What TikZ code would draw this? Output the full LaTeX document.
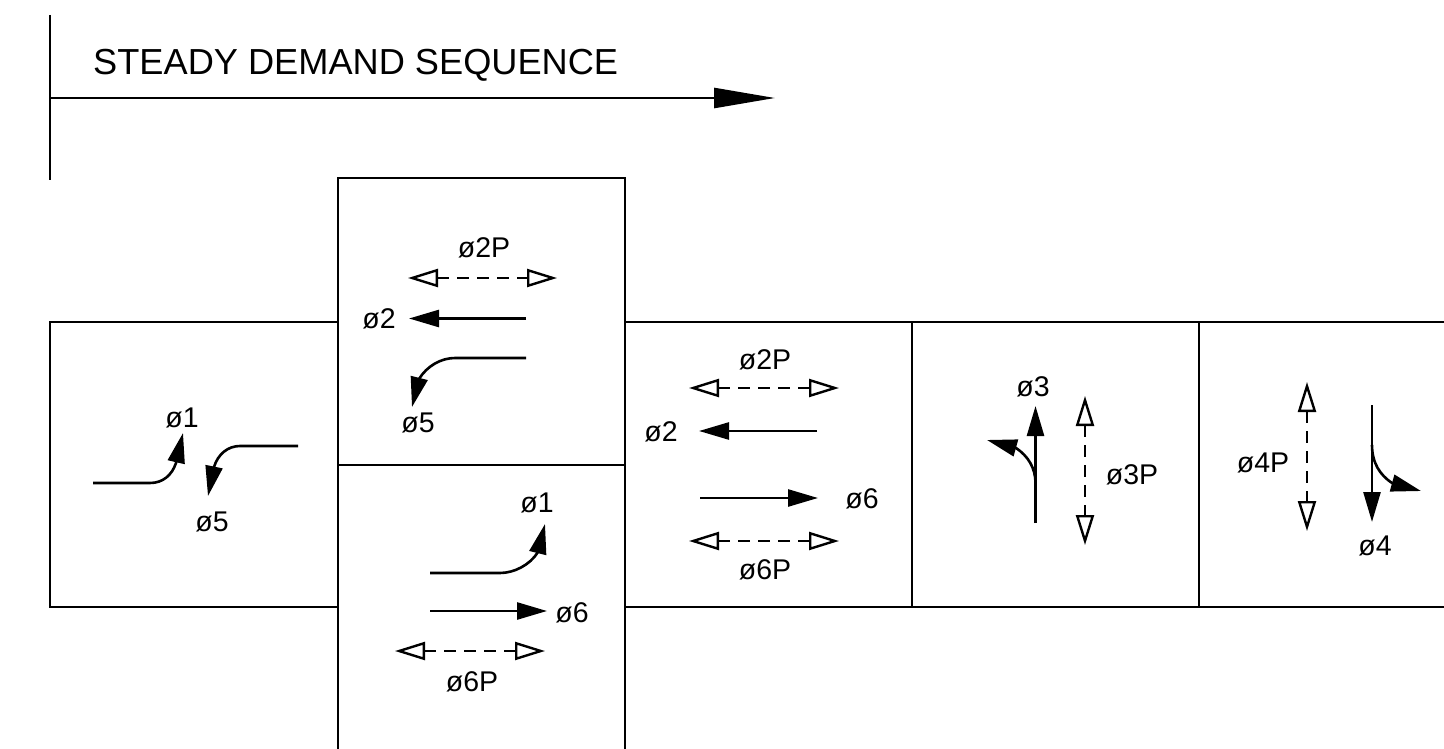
\documentclass[tikz,border=0pt]{standalone}
\usepackage{fontspec}
\setmainfont{Liberation Sans}
\usetikzlibrary{arrows.meta}
\tikzset{
  ln/.style={line width=2.6pt,line cap=butt},
  boxline/.style={line width=2.6pt,line cap=rect},
  solidarrow/.style={line width=2.6pt,-{Triangle[length=30pt,width=17pt]}},
  turnarrow/.style={line width=2.6pt,-{Triangle[length=30pt,width=17pt]}},
  ped/.style={line width=2.6pt,dash pattern=on 12pt off 8pt,
    {Triangle[open,length=30pt,width=18pt,line width=2.4pt]}-{Triangle[open,length=30pt,width=18pt,line width=2.4pt]}},
  lab/.style={font=\fontsize{28.5}{29}\selectfont,inner sep=0pt,anchor=center},
  titlelab/.style={font=\fontsize{36.2}{37}\selectfont,inner sep=0pt,anchor=west}
}
\begin{document}
\begin{tikzpicture}[x=1pt,y=-1pt]
\useasboundingbox (0,0) rectangle (1444,749);
\fill[white] (0,0) rectangle (1444,749);
% title
\node[titlelab] (title) at (93,65) {STEADY DEMAND SEQUENCE};
\coordinate (tTop) at (50,15); \coordinate (tBot) at (50,180);
\coordinate (tL) at (50,98); \coordinate (tR) at (775,98);
\draw[ln] (tTop) -- (tBot);
\draw[line width=2.6pt,-{Triangle[length=61pt,width=20pt]}] (tL) -- (tR);
% boxes
\coordinate (a1) at (50,322); \coordinate (a2) at (338,322);
\coordinate (b1) at (50,607); \coordinate (b2) at (338,607);
\coordinate (c1) at (338,178); \coordinate (c2) at (625,178);
\coordinate (d1) at (338,465); \coordinate (d2) at (625,465);
\coordinate (e1) at (338,749); \coordinate (e2) at (625,749);
\coordinate (f2) at (625,322); \coordinate (f3) at (912,322); \coordinate (f4) at (1199,322); \coordinate (f5) at (1444,322);
\coordinate (g2) at (625,607); \coordinate (g3) at (912,607); \coordinate (g4) at (1199,607); \coordinate (g5) at (1444,607);
\draw[boxline] (a2) -- (a1) -- (b1) -- (b2);
\draw[boxline] (e1) -- (c1) -- (c2) -- (e2);
\draw[boxline] (d1) -- (d2);
\draw[boxline] (f2) -- (f5);
\draw[boxline] (g2) -- (g5);
\draw[boxline] (f3) -- (g3);
\draw[boxline] (f4) -- (g4);
% panel 1
\node[lab] (p1a) at (182,418) {ø1};
\node[lab] (p1b) at (212,522) {ø5};
\coordinate (p1s) at (93,483); \coordinate (p1k) at (150,483); \coordinate (p1m) at (176,463); \coordinate (p1t) at (183,433);
\draw[turnarrow] (p1s) -- (p1k) .. controls (163,483) and (172,475) .. (p1m) -- (p1t);
\coordinate (p1u) at (298,446); \coordinate (p1v) at (240,446); \coordinate (p1w) at (214,467); \coordinate (p1x) at (208,496);
\draw[turnarrow] (p1u) -- (p1v) .. controls (228,446) and (218,454) .. (p1w) -- (p1x);
% panel 2 top
\node[lab] (p2a) at (484,248) {ø2P};
\node[lab] (p2b) at (379,319) {ø2};
\node[lab] (p2c) at (418,423) {ø5};
\coordinate (p2s) at (408,278); \coordinate (p2e) at (557,278);
\draw[ped] (p2s) -- (p2e);
\coordinate (p2f) at (526,318.5); \coordinate (p2g) at (409,318.5);
\draw[solidarrow] (p2f) -- (p2g);
\coordinate (p2h) at (526,358); \coordinate (p2i) at (455,358); \coordinate (p2j) at (419,379); \coordinate (p2k) at (412,407);
\draw[turnarrow] (p2h) -- (p2i) .. controls (441,358) and (427,366) .. (p2j) -- (p2k);
% panel 2 bottom
\node[lab] (p3a) at (537,503) {ø1};
\node[lab] (p3b) at (572,613) {ø6};
\node[lab] (p3c) at (472,682) {ø6P};
\coordinate (p3s) at (430,573); \coordinate (p3k) at (500,573); \coordinate (p3m) at (538,552); \coordinate (p3t) at (545,524);
\draw[turnarrow] (p3s) -- (p3k) .. controls (514,573) and (530,565) .. (p3m) -- (p3t);
\coordinate (p3f) at (430,611); \coordinate (p3g) at (547,611);
\draw[solidarrow] (p3f) -- (p3g);
\coordinate (p3h) at (395,651); \coordinate (p3i) at (545,651);
\draw[ped] (p3h) -- (p3i);
% panel 3
\node[lab] (p4a) at (765,360) {ø2P};
\node[lab] (p4b) at (661,432) {ø2};
\node[lab] (p4c) at (862,499) {ø6};
\node[lab] (p4d) at (765,570) {ø6P};
\coordinate (p4s) at (689,388); \coordinate (p4e) at (839,388);
\draw[ped] (p4s) -- (p4e);
\coordinate (p4f) at (817,431); \coordinate (p4g) at (699,431);
\draw[solidarrow] (p4f) -- (p4g);
\coordinate (p4h) at (700,498); \coordinate (p4i) at (818,498);
\draw[solidarrow] (p4h) -- (p4i);
\coordinate (p4j) at (689,541); \coordinate (p4k) at (839,541);
\draw[ped] (p4j) -- (p4k);
% panel 4
\node[lab] (p5a) at (1033,387) {ø3};
\node[lab] (p5b) at (1132,475) {ø3P};
\coordinate (p5s) at (1035.5,523); \coordinate (p5t) at (1035.5,406);
\draw[solidarrow] (p5s) -- (p5t);
\coordinate (p5u) at (1035.5,483); \coordinate (p5v) at (1016,448); \coordinate (p5w) at (987,440);
\draw[turnarrow] (p5u) .. controls (1035.5,468) and (1028,456) .. (p5v) -- (p5w);
\coordinate (p5x) at (1085,396); \coordinate (p5y) at (1085,545);
\draw[ped] (p5x) -- (p5y);
% panel 5
\node[lab] (p6a) at (1263,463) {ø4P};
\node[lab] (p6b) at (1375,546) {ø4};
\coordinate (p6x) at (1307,382); \coordinate (p6y) at (1307,531);
\draw[ped] (p6x) -- (p6y);
\coordinate (p6s) at (1372,405); \coordinate (p6t) at (1372,522);
\draw[solidarrow] (p6s) -- (p6t);
\coordinate (p6u) at (1372,445); \coordinate (p6v) at (1392,483); \coordinate (p6w) at (1421,491);
\draw[turnarrow] (p6u) .. controls (1372,463) and (1380,475) .. (p6v) -- (p6w);
\end{tikzpicture}
\end{document}
